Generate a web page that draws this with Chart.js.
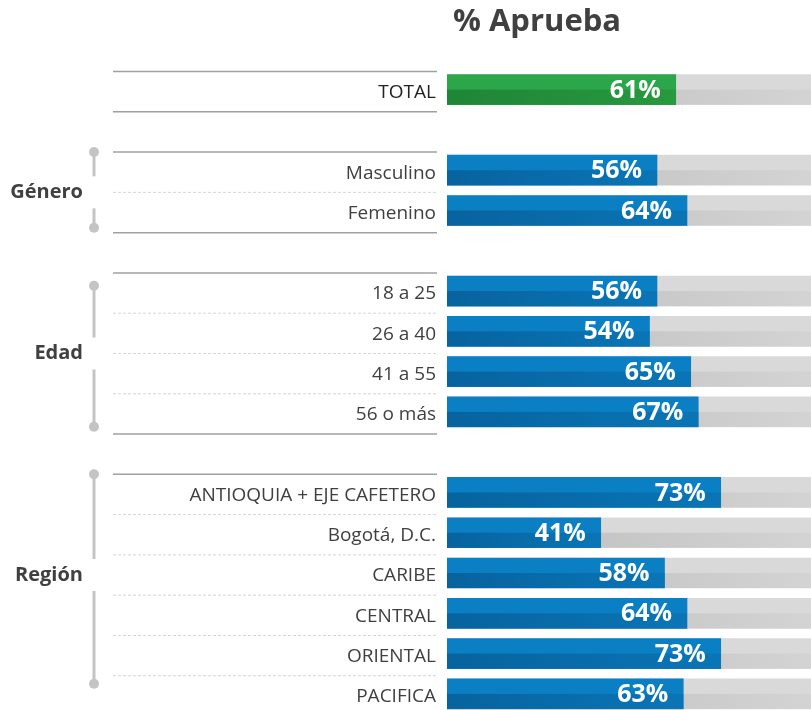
<!DOCTYPE html>
<html><head><meta charset="utf-8">
<script src="https://cdn.jsdelivr.net/npm/chart.js@4.4.0/dist/chart.umd.min.js"></script>
<style>
html,body{margin:0;padding:0;background:#fff;overflow:hidden}
#wrap{width:811px;height:710px;overflow:hidden;position:relative}
canvas{display:block}
</style>
</head><body>
<div id="wrap"><canvas id="c" width="822" height="720"></canvas></div>
<script>
// ---- data ----
const categories = ['TOTAL', '', 'Masculino', 'Femenino', '', '18 a 25', '26 a 40', '41 a 55', '56 o más', '',
  'ANTIOQUIA + EJE CAFETERO', 'Bogotá, D.C.', 'CARIBE', 'CENTRAL', 'ORIENTAL', 'PACIFICA'];
const approvalPct = [61, null, 56, 64, null, 56, 54, 65, 67, null, 73, 41, 58, 64, 73, 63];
const fullScale = [100, null, 100, 100, null, 100, 100, 100, 100, null, 100, 100, 100, 100, 100, 100];
const chartTitle = '% Aprueba';
const groupNames = ['', 'Género', 'Edad', 'Región'];
const groupFirstRow = [0, 2, 5, 10];
const groupLastRow = [0, 3, 8, 15];
const groupLabelRow = [0, 2.5, 6.5, 12];
const groupDotTop = [0, 1.55, 4.87, 9.55];
const groupDotBottom = [0, 3.43, 8.37, 14.75];

// ---- styles ----
const FONT = '"Open Sans", "Noto Sans", sans-serif';
const TEXT = '#404040';
const palette = {
  blue:  {top: '#0a7fc3', b0: '#07639e', b1: '#0a75b6'},
  green: {top: '#2ba64b', b0: '#1f8537', b1: '#28993f'},
  gray:  {top: '#d9d9d9', b0: '#bbbbbb', b1: '#d4d4d4'}
};
const pal = (dsIndex, i) => dsIndex === 1 ? palette.gray : (i === 0 ? palette.green : palette.blue);

const rowY = (chart, r) => chart.scales.y.getPixelForValue(r);

const decorPlugin = {
  id: 'decor',
  afterDatasetDraw(chart, args) {
    const ctx = chart.ctx;
    const ca = chart.chartArea;
    ctx.save();
    ctx.beginPath();
    ctx.rect(ca.left, ca.top, ca.right - ca.left, ca.bottom - ca.top);
    ctx.clip();
    args.meta.data.forEach((el, i) => {
      const v = chart.data.datasets[args.index].data[i];
      if (v == null) return;
      const p = el.getProps(['x', 'y', 'base', 'height'], true);
      const x0 = Math.min(p.x, p.base), x1 = Math.max(p.x, p.base);
      const c = pal(args.index, i);
      const g = ctx.createLinearGradient(x0, 0, x1, 0);
      g.addColorStop(0, c.b0);
      g.addColorStop(1, c.b1);
      ctx.fillStyle = g;
      ctx.fillRect(x0, p.y, x1 - x0, p.height / 2);
    });
    ctx.restore();
  },
  afterDatasetsDraw(chart) {
    const ctx = chart.ctx;
    ctx.save();
    const meta = chart.getDatasetMeta(0);
    ctx.font = 'bold 25px ' + FONT;
    ctx.fillStyle = '#ffffff';
    ctx.textAlign = 'right';
    ctx.textBaseline = 'middle';
    meta.data.forEach((el, i) => {
      const v = approvalPct[i];
      if (v == null) return;
      const p = el.getProps(['x', 'y'], true);
      ctx.fillText(v + '%', p.x - 15, p.y + 1);
    });
    ctx.restore();
  },
  beforeDraw(chart) {
    const ctx = chart.ctx;
    ctx.save();
    ctx.font = 'bold 31px ' + FONT;
    ctx.fillStyle = TEXT;
    ctx.textAlign = 'center';
    ctx.textBaseline = 'middle';
    ctx.fillText(chartTitle, 537, 22);
    const L = 113, R = 437, off = 2;
    for (let g = 0; g < groupNames.length; g++) {
      const a = groupFirstRow[g], b = groupLastRow[g];
      ctx.setLineDash([]);
      ctx.strokeStyle = '#a0a0a0';
      ctx.lineWidth = 1.5;
      [a - 0.5, b + 0.5].forEach(r => {
        const y = rowY(chart, r) + off;
        ctx.beginPath(); ctx.moveTo(L, y); ctx.lineTo(R, y); ctx.stroke();
      });
      ctx.setLineDash([3, 2]);
      ctx.strokeStyle = '#d4d4d4';
      ctx.lineWidth = 1;
      for (let r = a; r < b; r++) {
        const y = rowY(chart, r + 0.5) + off;
        ctx.beginPath(); ctx.moveTo(L, y); ctx.lineTo(R, y); ctx.stroke();
      }
      ctx.setLineDash([]);
      if (!groupNames[g]) continue;
      const bx = 94;
      const yt = rowY(chart, groupDotTop[g]);
      const yb = rowY(chart, groupDotBottom[g]);
      const yl = rowY(chart, groupLabelRow[g]) + 2;
      ctx.strokeStyle = '#c4c4c4';
      ctx.fillStyle = '#c4c4c4';
      ctx.lineWidth = 3;
      ctx.beginPath(); ctx.moveTo(bx, yt); ctx.lineTo(bx, yl - 16); ctx.stroke();
      ctx.beginPath(); ctx.moveTo(bx, yl + 16); ctx.lineTo(bx, yb); ctx.stroke();
      ctx.beginPath(); ctx.arc(bx, yt, 5, 0, Math.PI * 2); ctx.fill();
      ctx.beginPath(); ctx.arc(bx, yb, 5, 0, Math.PI * 2); ctx.fill();
      ctx.font = 'bold 20px ' + FONT;
      ctx.fillStyle = TEXT;
      ctx.textAlign = 'right';
      ctx.textBaseline = 'middle';
      ctx.fillText(groupNames[g], 83, yl);
    }
    ctx.restore();
  }
};

new Chart(document.getElementById('c'), {
  type: 'bar',
  data: {
    labels: categories,
    datasets: [
      {
        label: '% Aprueba',
        data: approvalPct,
        order: 1,
        grouped: false,
        barThickness: 30,
        backgroundColor: ctx => pal(0, ctx.dataIndex).top,
        borderWidth: 0
      },
      {
        label: 'Base',
        data: fullScale,
        order: 2,
        grouped: false,
        barThickness: 30,
        backgroundColor: palette.gray.top,
        borderWidth: 0
      }
    ]
  },
  options: {
    indexAxis: 'y',
    responsive: false,
    animation: false,
    devicePixelRatio: 1,
    layout: {padding: {top: 69.5, bottom: 6, left: 0, right: 0}},
    plugins: {legend: {display: false}, tooltip: {enabled: false}, title: {display: false}},
    scales: {
      x: {display: false, min: 0, max: 100},
      y: {
        type: 'category',
        grid: {display: false, drawTicks: false},
        border: {display: false},
        afterFit: s => { s.width = 447; s.paddingTop = 0; s.paddingBottom = 0; },
        ticks: {
          padding: 11,
          labelOffset: 3,
          autoSkip: false,
          color: c => c.index === 0 ? '#222222' : TEXT,
          font: {family: FONT, size: 19}
        }
      }
    }
  },
  plugins: [decorPlugin]
});
</script>
</body></html>
